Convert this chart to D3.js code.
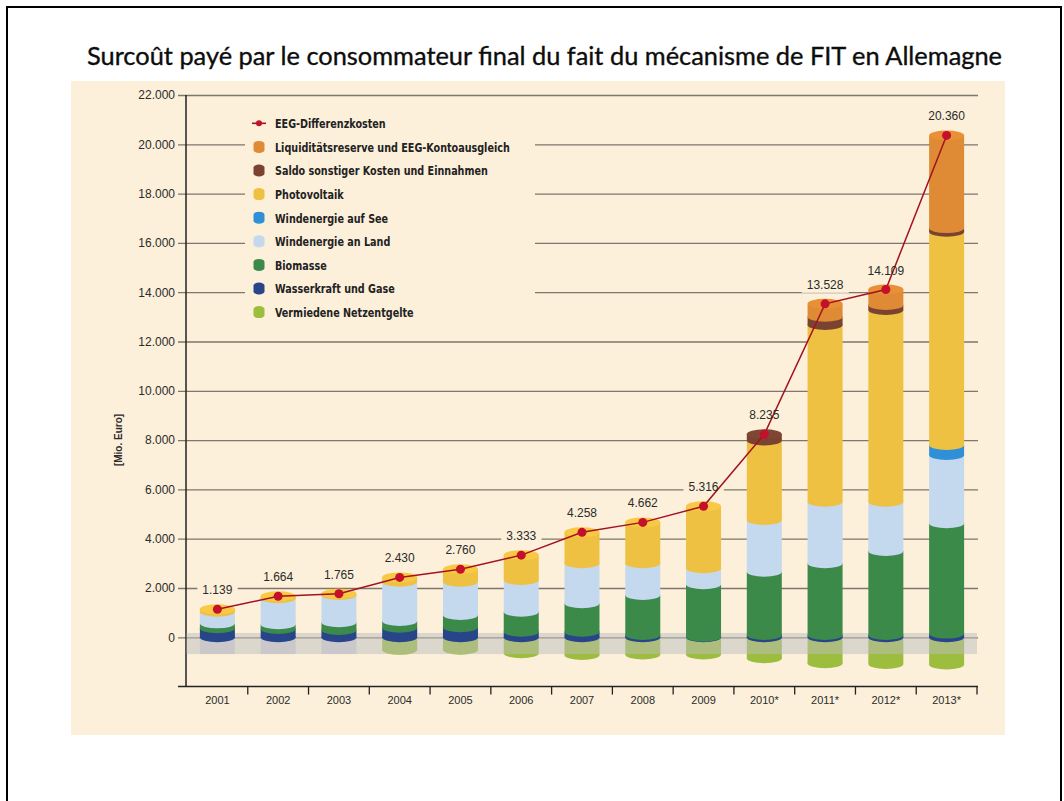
<!DOCTYPE html>
<html lang="fr">
<head>
<meta charset="utf-8">
<title>Surcoût payé par le consommateur final du fait du mécanisme de FIT en Allemagne</title>
<script src="https://cdn.jsdelivr.net/npm/d3@7"></script>
<style>
  html, body { margin: 0; padding: 0; background: #ffffff; }
  svg { display: block; }
</style>
</head>
<body>
<svg id="chart" width="1064" height="801"></svg>
<script>
// Jahre (Prognosejahre mit *)
const years = ["2001", "2002", "2003", "2004", "2005", "2006", "2007", "2008", "2009", "2010*", "2011*", "2012*", "2013*"];

// EEG-Differenzkosten [Mio. Euro]
const differenzkosten = [1139, 1664, 1765, 2430, 2760, 3333, 4258, 4662, 5316, 8235, 13528, 14109, 20360];

// Komponenten [Mio. Euro], von unten nach oben gestapelt
const wasserkraft   = [365, 337, 296, 390, 405, 227, 227, 93, 24, 93, 93, 93, 150];
const biomasse      = [200, 190, 312, 271, 500, 812, 1152, 1623, 2126, 2568, 2909, 3408, 4475];
const windLand      = [474, 1055, 1108, 1594, 1350, 1286, 1623, 1286, 649, 2098, 2499, 2000, 2771];
const windSee       = [0, 0, 0, 0, 0, 0, 0, 0, 0, 0, 0, 0, 405];
const photovoltaik  = [100, 82, 49, 175, 505, 1008, 1256, 1660, 2517, 3226, 7168, 7779, 8649];
const saldo         = [0, 0, 0, 0, 0, 0, 0, 0, 0, 250, 337, 200, 150];
const liquiditaet   = [0, 0, 0, 0, 0, 0, 0, 0, 0, 0, 522, 629, 3760];
// negativer Anteil
const netzentgelte  = [null, null, null, -510, -500, -650, -720, -700, -700, -850, -1050, -1080, -1100];

const yTicks = [0, 2000, 4000, 6000, 8000, 10000, 12000, 14000, 16000, 18000, 20000, 22000];

const seriesKeys = ["wasserkraft", "biomasse", "windLand", "windSee", "photovoltaik", "saldo", "liquiditaet"];
const seriesColors = {
  wasserkraft: "#28458a",
  biomasse: "#3b8a4a",
  windLand: "#c4d8ee",
  windSee: "#2f90d8",
  photovoltaik: "#efc142",
  saldo: "#7a4331",
  liquiditaet: "#df8a34",
  netzentgelte: "#9dbd3f"
};

const legendItems = [
  { label: "EEG-Differenzkosten", line: true },
  { label: "Liquiditätsreserve und EEG-Kontoausgleich", key: "liquiditaet" },
  { label: "Saldo sonstiger Kosten und Einnahmen", key: "saldo" },
  { label: "Photovoltaik", key: "photovoltaik" },
  { label: "Windenergie auf See", key: "windSee" },
  { label: "Windenergie an Land", key: "windLand" },
  { label: "Biomasse", key: "biomasse" },
  { label: "Wasserkraft und Gase", key: "wasserkraft" },
  { label: "Vermiedene Netzentgelte", key: "netzentgelte" }
];

const rows = years.map((year, i) => ({
  year,
  wasserkraft: wasserkraft[i],
  biomasse: biomasse[i],
  windLand: windLand[i],
  windSee: windSee[i],
  photovoltaik: photovoltaik[i],
  saldo: saldo[i],
  liquiditaet: liquiditaet[i],
  netzentgelte: netzentgelte[i],
  total: differenzkosten[i]
}));

const de = d3.formatLocale({ decimal: ",", thousands: ".", grouping: [3], currency: ["", " €"] });
const fmt = de.format(",d");

const panelColor = "#fcf0da";
const gridColor = "#7e766c";
const textColor = "#2b2b2b";

const svg = d3.select("#chart");

// Rahmen
svg.append("rect")
  .attr("x", 7).attr("y", 7)
  .attr("width", 1054).attr("height", 820)
  .attr("fill", "none").attr("stroke", "#000").attr("stroke-width", 2);

// Titel
svg.append("text")
  .attr("x", 87).attr("y", 65)
  .attr("textLength", 915).attr("lengthAdjust", "spacingAndGlyphs")
  .attr("font-family", "Lato, 'Open Sans', sans-serif")
  .attr("font-size", 25.5)
  .attr("fill", "#0d0d0d")
  .attr("stroke", "#0d0d0d").attr("stroke-width", 0.35)
  .text("Surcoût payé par le consommateur final du fait du mécanisme de FIT en Allemagne");

// Hintergrundfläche
svg.append("rect")
  .attr("x", 71).attr("y", 81)
  .attr("width", 934).attr("height", 654)
  .attr("fill", panelColor);

const x = d3.scaleBand()
  .domain(years)
  .range([187, 977])
  .paddingInner(0.424)
  .paddingOuter(0.212);

const y = d3.scaleLinear()
  .domain([-2000, 22000])
  .range([686.6, 95.0]);

const bw = x.bandwidth();
const ry = 5;

// Gitterlinien und y-Beschriftung
const yAxis = svg.append("g")
  .attr("transform", "translate(178,0)")
  .call(d3.axisLeft(y).tickValues(yTicks).tickSize(-800).tickPadding(3).tickFormat(fmt));
yAxis.select(".domain").remove();
yAxis.selectAll(".tick line").attr("stroke", gridColor).attr("stroke-width", 1.3);
yAxis.selectAll(".tick text")
  .attr("font-family", "'Liberation Sans', Arial, sans-serif")
  .attr("font-size", 12)
  .attr("fill", textColor);

// Achsentitel
svg.append("text")
  .attr("transform", "translate(122,440) rotate(-90)")
  .attr("text-anchor", "middle")
  .attr("font-family", "'Liberation Sans', Arial, sans-serif")
  .attr("font-size", 10)
  .attr("font-weight", "bold")
  .attr("fill", textColor)
  .text("[Mio. Euro]");

// Legendenhintergrund über den Gitterlinien
svg.append("rect")
  .attr("x", 245).attr("y", 109)
  .attr("width", 290).attr("height", 216)
  .attr("fill", panelColor);

// Legende
const legend = svg.append("g").attr("transform", "translate(259,123.3)");
const legendRow = legend.selectAll("g")
  .data(legendItems)
  .join("g")
  .attr("transform", (d, i) => `translate(0,${i * 23.6})`);

legendRow.filter(d => d.line).append("line")
  .attr("x1", -7).attr("x2", 7).attr("y1", 0).attr("y2", 0)
  .attr("stroke", "#a3121f").attr("stroke-width", 1.6);
legendRow.filter(d => d.line).append("circle")
  .attr("r", 3).attr("fill", "#c4102b");
legendRow.filter(d => !d.line).append("rect")
  .attr("x", -5.5).attr("y", -6).attr("width", 11).attr("height", 12)
  .attr("rx", 5.5).attr("ry", 3)
  .attr("fill", d => seriesColors[d.key]);

// schmale Legendenschrift: horizontal gestauchte Textgruppe
const legendTextG = legendRow.append("g").attr("transform", "translate(16,0)");
const legendTexts = legendTextG.append("text")
  .attr("x", 0).attr("y", 4.8)
  .attr("font-family", "'DejaVu Sans Condensed', 'DejaVu Sans', sans-serif")
  .attr("font-size", 13)
  .attr("font-weight", "bold")
  .attr("fill", "#222")
  .text(d => d.label);
const longest = d3.max(legendTexts.nodes(), n => n.getComputedTextLength());
const squeeze = 235 / longest;
legendTextG.attr("transform", `translate(16,0) scale(${squeeze},1)`);

// Hintergrund der Wertebeschriftungen (unterbricht Gitterlinien)
const labelsBg = svg.append("g");

// y-Achse
svg.append("line")
  .attr("x1", 186).attr("x2", 186)
  .attr("y1", y(22000)).attr("y2", y(-2000))
  .attr("stroke", "#222").attr("stroke-width", 1.5);

// x-Achse
svg.append("line")
  .attr("x1", 178).attr("x2", 978)
  .attr("y1", y(-2000)).attr("y2", y(-2000))
  .attr("stroke", "#222").attr("stroke-width", 1.5);

const step = x.step();
svg.append("g").selectAll("line")
  .data(years)
  .join("line")
  .attr("x1", d => x(d) + bw + (step - bw) / 2)
  .attr("x2", d => x(d) + bw + (step - bw) / 2)
  .attr("y1", y(-2000)).attr("y2", y(-2000) + 8)
  .attr("stroke", "#222").attr("stroke-width", 1.3);

const xAxis = svg.append("g")
  .attr("transform", `translate(0,${y(-2000)})`)
  .call(d3.axisBottom(x).tickSize(0).tickPadding(10));
xAxis.select(".domain").remove();
xAxis.selectAll(".tick text")
  .attr("font-family", "'Liberation Sans', Arial, sans-serif")
  .attr("font-size", 11)
  .attr("fill", textColor);

// negative Säulenanteile
const negRows = rows.filter(d => d.netzentgelte != null);
const negG = svg.append("g");
negG.selectAll("rect")
  .data(negRows)
  .join("rect")
  .attr("x", d => x(d.year)).attr("width", bw)
  .attr("y", y(0))
  .attr("height", d => y(d.netzentgelte) - y(0))
  .attr("fill", seriesColors.netzentgelte);
negG.selectAll("ellipse")
  .data(negRows)
  .join("ellipse")
  .attr("cx", d => x(d.year) + bw / 2)
  .attr("cy", d => y(d.netzentgelte))
  .attr("rx", bw / 2).attr("ry", ry)
  .attr("fill", seriesColors.netzentgelte);

// graues Band um die Nulllinie
svg.append("rect")
  .attr("x", 186.5).attr("width", 977 - 186.5)
  .attr("y", y(175)).attr("height", y(-680) - y(175))
  .attr("fill", "#bcbebe").attr("fill-opacity", 0.5);

// Schatten der Säulen ohne negativen Anteil
svg.append("g").selectAll("rect")
  .data(rows.filter(d => d.netzentgelte == null))
  .join("rect")
  .attr("x", d => x(d.year)).attr("width", bw)
  .attr("y", y(0)).attr("height", y(-680) - y(0))
  .attr("fill", "#8c95c4").attr("fill-opacity", 0.22);

// gestapelte Zylinder
const stacked = d3.stack().keys(seriesKeys)(rows);
const barsG = svg.append("g");
stacked.forEach(layer => {
  const color = seriesColors[layer.key];
  const segs = layer.filter(d => d[1] - d[0] > 0);
  const g = barsG.append("g");
  g.selectAll("rect")
    .data(segs)
    .join("rect")
    .attr("x", d => x(d.data.year)).attr("width", bw)
    .attr("y", d => y(d[1]))
    .attr("height", d => y(d[0]) - y(d[1]))
    .attr("fill", color);
  g.selectAll("ellipse")
    .data(segs)
    .join("ellipse")
    .attr("cx", d => x(d.data.year) + bw / 2)
    .attr("cy", d => y(d[0]))
    .attr("rx", bw / 2).attr("ry", ry)
    .attr("fill", color);
});

// Deckfläche jeder Säule
const topKey = d => seriesKeys.filter(k => d[k] > 0).pop();
barsG.append("g").selectAll("ellipse")
  .data(rows)
  .join("ellipse")
  .attr("cx", d => x(d.year) + bw / 2)
  .attr("cy", d => y(d.total))
  .attr("rx", bw / 2).attr("ry", ry)
  .attr("fill", d => d3.color(seriesColors[topKey(d)]).brighter(0.12));

// Linie EEG-Differenzkosten
const line = d3.line()
  .x(d => x(d.year) + bw / 2)
  .y(d => y(d.total));
svg.append("path")
  .datum(rows)
  .attr("d", line)
  .attr("fill", "none")
  .attr("stroke", "#a3121f")
  .attr("stroke-width", 1.5);
svg.append("g").selectAll("circle")
  .data(rows)
  .join("circle")
  .attr("cx", d => x(d.year) + bw / 2)
  .attr("cy", d => y(d.total))
  .attr("r", 4.5)
  .attr("fill", "#c4102b");

// Wertebeschriftungen
const valueLabels = svg.append("g").selectAll("text")
  .data(rows)
  .join("text")
  .attr("x", d => x(d.year) + bw / 2)
  .attr("y", d => y(d.total) - 15)
  .attr("text-anchor", "middle")
  .attr("font-family", "'Liberation Sans', Arial, sans-serif")
  .attr("font-size", 12)
  .attr("fill", textColor)
  .text(d => fmt(d.total));

valueLabels.each(function () {
  const b = this.getBBox();
  labelsBg.append("rect")
    .attr("x", b.x - 5).attr("y", b.y - 1)
    .attr("width", b.width + 10).attr("height", b.height + 2)
    .attr("fill", panelColor);
});
</script>
</body>
</html>
